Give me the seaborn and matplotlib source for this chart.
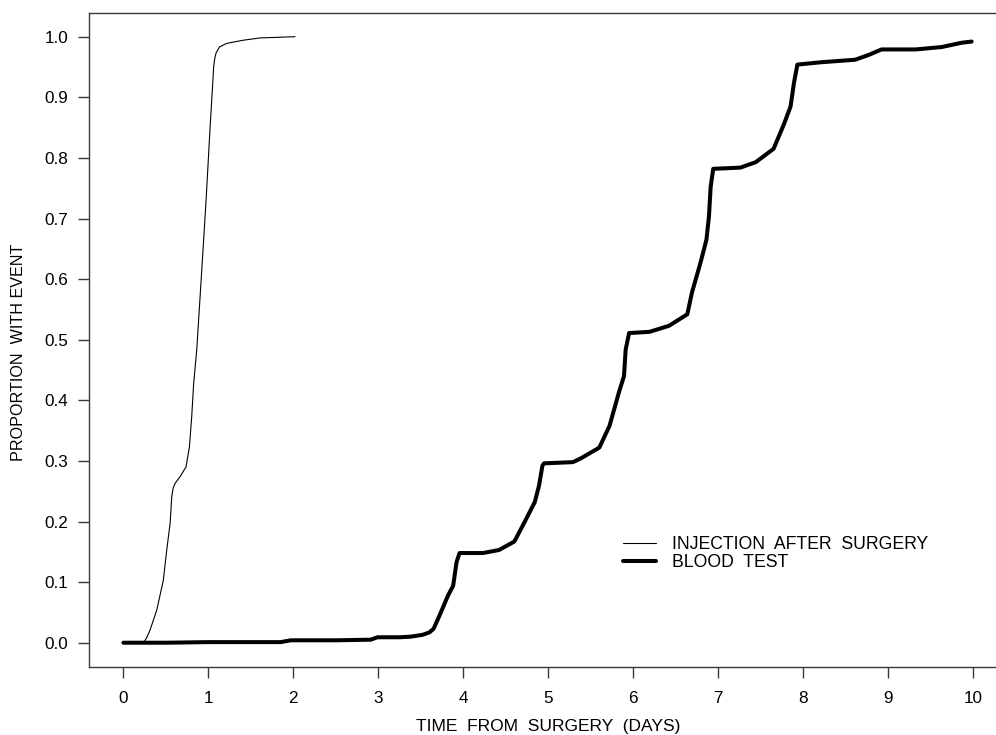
import matplotlib
matplotlib.use("Agg")
import matplotlib.pyplot as plt
import seaborn as sns
import pandas as pd

# Cumulative proportion of patients with each event, by day after surgery
injection_days = [0, 0.12, 0.235, 0.27, 0.314, 0.393, 0.47, 0.51, 0.55, 0.569, 0.585,
                  0.608, 0.667, 0.737, 0.777, 0.804, 0.827, 0.863, 0.92, 0.973, 1.02,
                  1.05, 1.062, 1.075, 1.09, 1.13, 1.216, 1.40, 1.608, 2.02]
injection_prop = [0, 0, 0, 0.007, 0.021, 0.054, 0.103, 0.153, 0.197, 0.241, 0.255,
                  0.263, 0.274, 0.29, 0.323, 0.373, 0.428, 0.483, 0.61, 0.73, 0.85,
                  0.92, 0.95, 0.964, 0.973, 0.983, 0.989, 0.994, 0.998, 1.0]

blood_days = [0, 0.5, 1.0, 1.5, 1.85, 1.97, 2.5, 2.91, 2.99, 3.25, 3.38, 3.52, 3.60,
              3.65, 3.72, 3.82, 3.88, 3.92, 3.955, 4.23, 4.42, 4.60, 4.72, 4.84, 4.89,
              4.93, 4.95, 5.29, 5.38, 5.60, 5.72, 5.83, 5.89, 5.91, 5.95, 6.19, 6.42,
              6.635, 6.69, 6.79, 6.86, 6.89, 6.91, 6.94, 7.26, 7.44, 7.65, 7.77, 7.85,
              7.89, 7.93, 8.22, 8.61, 8.77, 8.92, 9.32, 9.63, 9.86, 9.98]
blood_prop = [0, 0, 0.001, 0.001, 0.001, 0.004, 0.004, 0.005, 0.009, 0.009, 0.010,
              0.013, 0.017, 0.023, 0.045, 0.078, 0.094, 0.133, 0.148, 0.148, 0.153,
              0.167, 0.199, 0.232, 0.259, 0.292, 0.296, 0.298, 0.304, 0.322, 0.358,
              0.413, 0.44, 0.484, 0.511, 0.513, 0.523, 0.542, 0.578, 0.627, 0.665,
              0.704, 0.753, 0.782, 0.784, 0.793, 0.815, 0.855, 0.885, 0.924, 0.954,
              0.958, 0.962, 0.97, 0.979, 0.979, 0.983, 0.99, 0.992]

series_names = ["INJECTION  AFTER  SURGERY", "BLOOD  TEST"]
x_ticks = list(range(0, 11))
y_ticks = [0.0, 0.1, 0.2, 0.3, 0.4, 0.5, 0.6, 0.7, 0.8, 0.9, 1.0]
x_title = "TIME  FROM  SURGERY  (DAYS)"
y_title = "PROPORTION  WITH EVENT"

sns.set_theme(style="ticks")
plt.rcParams["font.family"] = ["Liberation Sans", "DejaVu Sans"]

injection = pd.DataFrame({"day": injection_days, "prop": injection_prop})
blood = pd.DataFrame({"day": blood_days, "prop": blood_prop})

fig = plt.figure(figsize=(9.96, 7.35), dpi=100)
ax = fig.add_axes([0.0894, 0.0929, 0.9223, 0.8898])

sns.lineplot(data=injection, x="day", y="prop", ax=ax, color="black",
             linewidth=0.8, label=series_names[0], errorbar=None)
sns.lineplot(data=blood, x="day", y="prop", ax=ax, color="black",
             linewidth=2.9, label=series_names[1], errorbar=None)

ax.set_xlim(-0.404, 10.404)
ax.set_ylim(-0.0396, 1.0396)
ax.set_xticks(x_ticks)
ax.set_xticklabels([str(t) for t in x_ticks])
ax.set_yticks(y_ticks)
ax.set_yticklabels([f"{t:.1f}" for t in y_ticks])

spine_color = "#3a3a3a"
for side in ["left", "bottom", "top"]:
    ax.spines[side].set_color(spine_color)
    ax.spines[side].set_linewidth(1.0)
ax.spines["right"].set_visible(False)

ax.tick_params(axis="both", direction="out", length=8, width=1.0,
               color=spine_color, labelsize=12.3, labelcolor="black")
ax.tick_params(axis="x", pad=9.5)
ax.tick_params(axis="y", pad=7)

ax.set_xlabel(x_title, fontsize=12.5, color="black")
ax.set_ylabel(y_title, fontsize=11.6, color="black")
ax.xaxis.set_label_coords(0.5, -0.08)
ax.yaxis.set_label_coords(-0.069, 0.48)

leg = ax.legend(loc="center left", bbox_to_anchor=(623 / 996, 1 - 553.7 / 735),
                bbox_transform=fig.transFigure, frameon=False, fontsize=12.7,
                handlelength=1.87, handletextpad=0.9, labelspacing=0.08,
                borderpad=0, borderaxespad=0)
for text in leg.get_texts():
    text.set_color("black")

fig.savefig("out.png", dpi=100, facecolor="white")
